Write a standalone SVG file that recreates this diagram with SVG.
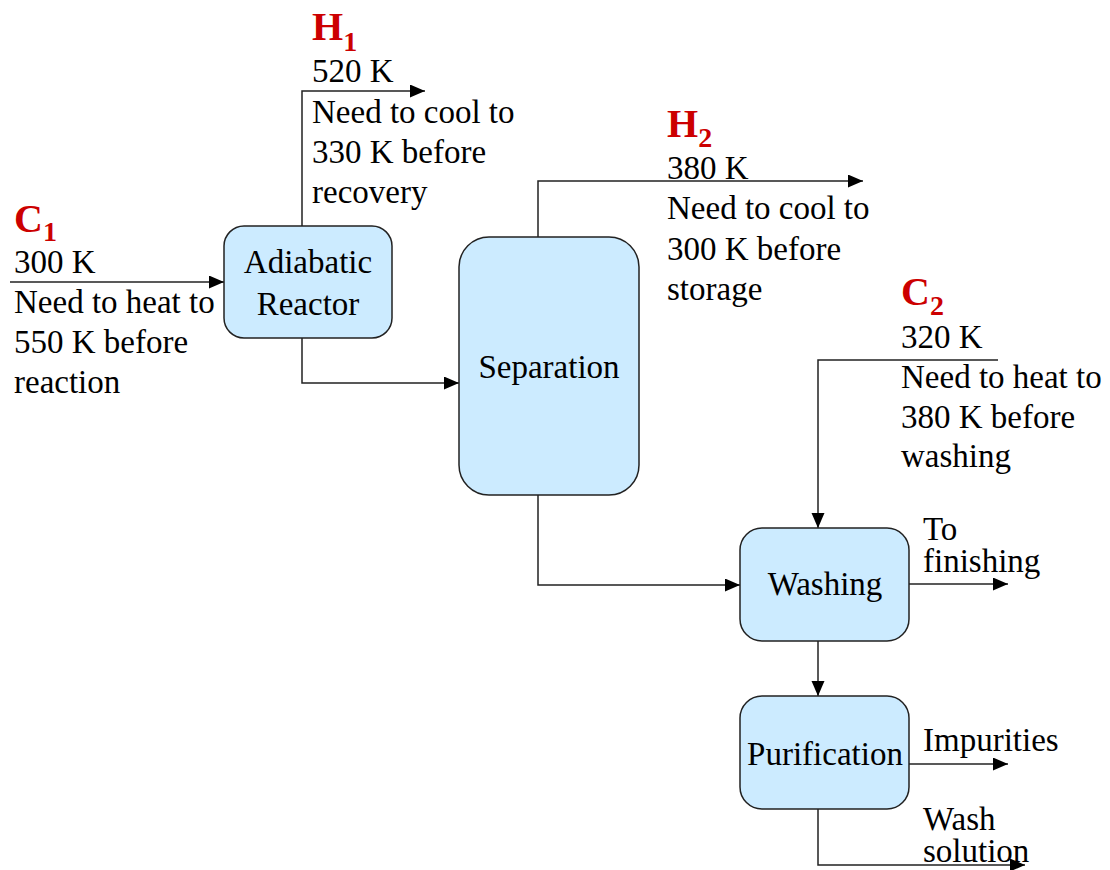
<svg xmlns="http://www.w3.org/2000/svg" width="1110" height="870" viewBox="0 0 1110 870">
<style>
.t{font-family:"Liberation Serif","Times New Roman",serif;font-size:33px;fill:#000}
.m{text-anchor:middle}
.lab{font-family:"Liberation Serif","Times New Roman",serif;font-size:40px;font-weight:bold;fill:#cc0000}
.sub{font-size:28px}
.box{fill:#ccebff;stroke:#222;stroke-width:1.5}
.ln{fill:none;stroke:#222;stroke-width:1.5}
</style>
<defs>
<marker id="ah" markerUnits="userSpaceOnUse" markerWidth="16" markerHeight="14" refX="15" refY="6.5" orient="auto">
<path d="M0,0 L15,6.5 L0,13 z" fill="#000"/>
</marker>
</defs>
<rect width="1110" height="870" fill="#fff"/>
<g id="connectors">
<path class="ln" d="M10,282 H224" marker-end="url(#ah)"/>
<path class="ln" d="M302,226 V91 H425" marker-end="url(#ah)"/>
<path class="ln" d="M302,338 V383 H459" marker-end="url(#ah)"/>
<path class="ln" d="M538,237 V181 H863" marker-end="url(#ah)"/>
<path class="ln" d="M538,495 V585 H740" marker-end="url(#ah)"/>
<path class="ln" d="M998,360 H818 V528" marker-end="url(#ah)"/>
<path class="ln" d="M909,584 H1008" marker-end="url(#ah)"/>
<path class="ln" d="M818,641 V696" marker-end="url(#ah)"/>
<path class="ln" d="M909,764 H1008" marker-end="url(#ah)"/>
<path class="ln" d="M818,809 V865 H1025" marker-end="url(#ah)"/>
</g>
<g id="reactor">
<rect class="box" x="224" y="226" width="168" height="112" rx="20"/>
<text class="t m" x="308" y="273">Adiabatic</text>
<text class="t m" x="308" y="315">Reactor</text>
</g>
<g id="separation">
<rect class="box" x="459" y="237" width="180" height="258" rx="30"/>
<text class="t m" x="549" y="378">Separation</text>
</g>
<g id="washing">
<rect class="box" x="740" y="528" width="169" height="113" rx="22"/>
<text class="t m" x="825" y="595">Washing</text>
</g>
<g id="purification">
<rect class="box" x="740" y="696" width="169" height="113" rx="22"/>
<text class="t m" x="825" y="765">Purification</text>
</g>
<g id="c1">
<text class="lab" x="14" y="232">C<tspan class="sub" dy="9">1</tspan></text>
<text class="t" x="14" y="273">300 K</text>
<text class="t" x="14" y="313">Need to heat to</text>
<text class="t" x="14" y="353">550 K before</text>
<text class="t" x="14" y="393">reaction</text>
</g>
<g id="h1">
<text class="lab" x="312" y="40">H<tspan class="sub" dy="11">1</tspan></text>
<text class="t" x="312" y="82">520 K</text>
<text class="t" x="312" y="123">Need to cool to</text>
<text class="t" x="312" y="163">330 K before</text>
<text class="t" x="312" y="203">recovery</text>
</g>
<g id="h2">
<text class="lab" x="667" y="137">H<tspan class="sub" dy="10">2</tspan></text>
<text class="t" x="667" y="179">380 K</text>
<text class="t" x="667" y="219">Need to cool to</text>
<text class="t" x="667" y="260">300 K before</text>
<text class="t" x="667" y="300">storage</text>
</g>
<g id="c2">
<text class="lab" x="901" y="305">C<tspan class="sub" dy="10">2</tspan></text>
<text class="t" x="901" y="348">320 K</text>
<text class="t" x="901" y="388">Need to heat to</text>
<text class="t" x="901" y="428">380 K before</text>
<text class="t" x="901" y="467">washing</text>
</g>
<g id="outputs">
<text class="t" x="923" y="540">To</text>
<text class="t" x="923" y="572">finishing</text>
<text class="t" x="923" y="751">Impurities</text>
<text class="t" x="923" y="830">Wash</text>
<text class="t" x="923" y="862">solution</text>
</g>
</svg>
